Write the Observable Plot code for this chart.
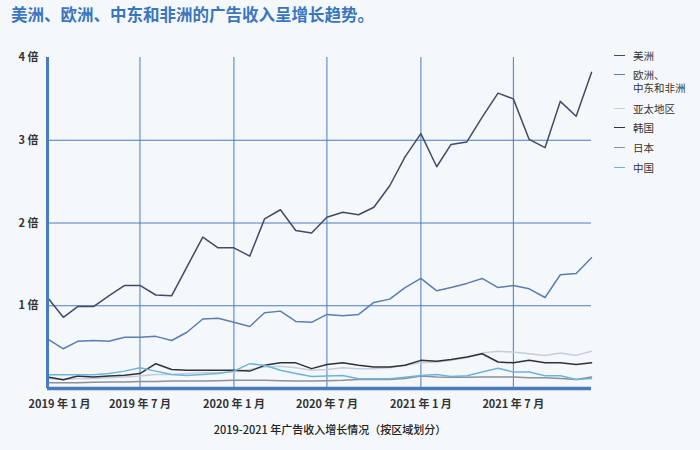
<!DOCTYPE html>
<html><head><meta charset="utf-8">
<script src="https://cdn.jsdelivr.net/npm/d3@7"></script>
<script src="https://cdn.jsdelivr.net/npm/@observablehq/plot@0.6"></script>
<style>
html,body{margin:0;padding:0;background:#f5f8fb;}
#wrap{position:relative;width:700px;height:450px;font-family:"Noto Sans CJK SC","Noto Sans",sans-serif;}
#title{position:absolute;left:11px;top:2px;font-size:16.5px;font-weight:700;color:#3a76bd;white-space:nowrap;}
#caption{position:absolute;left:0;width:660px;text-align:center;top:421px;font-size:11px;font-weight:500;color:#222;}
#legend{position:absolute;left:612px;top:49px;font-size:10.5px;color:#333;}
.li{position:absolute;left:0;white-space:nowrap;line-height:13px;}
.sw{position:absolute;left:2px;top:6px;width:11px;height:0;border-top:1.5px solid;}
.lt{position:absolute;left:21px;top:0;}
#chart{position:absolute;left:0;top:0;}
</style></head>
<body><div id="wrap"><div id="chart"></div><div id="title"></div><div id="legend"></div><div id="caption"></div></div>
<script>
const months = ["2019-01","2019-02","2019-03","2019-04","2019-05","2019-06","2019-07","2019-08","2019-09","2019-10","2019-11","2019-12",
"2020-01","2020-02","2020-03","2020-04","2020-05","2020-06","2020-07","2020-08","2020-09","2020-10","2020-11","2020-12",
"2021-01","2021-02","2021-03","2021-04","2021-05","2021-06","2021-07","2021-08","2021-09","2021-10","2021-11","2021-12"];
const seriesNames = ["美洲","欧洲、\n中东和非洲","亚太地区","韩国","日本","中国"];
const seriesColors = ["#434a66","#5a7db3","#c3cde0","#2f3136","#8b9099","#6cb4dd"];
const americas = [1.10,0.86,0.99,0.99,1.12,1.245,1.245,1.13,1.12,1.47,1.83,1.70,1.70,1.60,2.05,2.16,1.91,1.88,2.07,2.13,2.10,2.19,2.45,2.80,3.08,2.68,2.95,2.98,3.28,3.57,3.50,3.01,2.91,3.47,3.29,3.82];
const emea = [0.60,0.48,0.57,0.58,0.57,0.62,0.62,0.63,0.58,0.68,0.84,0.85,0.80,0.75,0.915,0.935,0.81,0.80,0.895,0.88,0.895,1.04,1.08,1.22,1.33,1.18,1.22,1.27,1.33,1.22,1.245,1.205,1.10,1.375,1.39,1.58];
const apac = [0.12,0.11,0.12,0.12,0.13,0.14,0.15,0.17,0.17,0.18,0.19,0.19,0.20,0.23,0.26,0.27,0.25,0.22,0.23,0.25,0.24,0.24,0.25,0.28,0.31,0.32,0.34,0.37,0.43,0.45,0.44,0.42,0.40,0.43,0.40,0.45];
const korea = [0.14,0.105,0.15,0.14,0.15,0.16,0.18,0.30,0.23,0.22,0.22,0.22,0.22,0.21,0.28,0.31,0.31,0.24,0.29,0.31,0.28,0.26,0.26,0.28,0.34,0.33,0.35,0.38,0.42,0.32,0.31,0.34,0.31,0.31,0.29,0.31];
const japan = [0.07,0.07,0.07,0.075,0.08,0.08,0.085,0.085,0.09,0.09,0.09,0.095,0.10,0.10,0.10,0.095,0.09,0.09,0.095,0.10,0.11,0.11,0.11,0.12,0.15,0.14,0.137,0.137,0.14,0.14,0.14,0.13,0.13,0.12,0.11,0.14];
const china = [0.165,0.165,0.165,0.165,0.18,0.21,0.25,0.21,0.17,0.157,0.17,0.18,0.21,0.30,0.28,0.22,0.18,0.145,0.15,0.157,0.117,0.117,0.117,0.137,0.157,0.17,0.145,0.155,0.20,0.245,0.20,0.20,0.155,0.155,0.11,0.12];
const yTicks = [1,2,3,4];
const xTicks = ["2019-01","2019-07","2020-01","2020-07","2021-01","2021-07"];
const titleText = "美洲、欧洲、中东和非洲的广告收入呈增长趋势。";
const captionText = "2019-2021 年广告收入增长情况（按区域划分）";

const seriesValues = [americas, emea, apac, korea, japan, china];
const parse = d3.utcParse("%Y-%m");
const data = [];
seriesValues.forEach((vals, s) => vals.forEach((v, i) => data.push({series: seriesNames[s], date: parse(months[i]), value: v})));
const xTickDates = xTicks.map(parse);
const fmt = d => `${d.getUTCFullYear()} 年 ${d.getUTCMonth()+1} 月`;
const gridColor = "#4a7bbd";

const chart = Plot.plot({
  width: 700, height: 450,
  marginTop: 57, marginBottom: 62, marginLeft: 47, marginRight: 109,
  style: {background: "transparent", fontFamily: "'Noto Sans CJK SC', sans-serif"},
  x: {type: "utc", domain: [parse(months[0]), parse(months[months.length-1])], axis: null},
  y: {domain: [0, 4]},
  color: {domain: seriesNames, range: seriesColors},
  marks: [
    Plot.ruleX(xTickDates.slice(1), {stroke: gridColor, strokeWidth: 1}),
    Plot.ruleY([1,2,3], {stroke: gridColor, strokeWidth: 1}),
    Plot.line(data, {x: "date", y: "value", z: "series", stroke: "series", strokeWidth: 1.5}),
    Plot.ruleX([parse(months[0])], {stroke: gridColor, strokeWidth: 3}),
    Plot.ruleY([0], {stroke: gridColor, strokeWidth: 3.5}),
    Plot.axisY({ticks: yTicks, tickSize: 0, tickPadding: 9, tickFormat: d => `${d} 倍`, label: null, fontSize: 11, fontWeight: 600, fill: "#333"}),
    Plot.text(xTickDates.slice(1), {x: d => d, y: 0, text: fmt, dy: 16, fontSize: 11, fontWeight: 600, fill: "#333"}),
    Plot.text(xTickDates.slice(0,1), {x: d => d, y: 0, text: fmt, dy: 16, dx: 12, fontSize: 11, fontWeight: 600, fill: "#333"})
  ]
});
document.getElementById("chart").append(chart);
document.getElementById("title").textContent = titleText;
document.getElementById("caption").textContent = captionText;

const legendTops = [0, 19, 53, 72, 92, 112];
const legend = document.getElementById("legend");
seriesNames.forEach((n, i) => {
  const li = document.createElement("div");
  li.className = "li"; li.style.top = legendTops[i] + "px";
  const sw = document.createElement("div"); sw.className = "sw"; sw.style.borderColor = seriesColors[i];
  const lt = document.createElement("div"); lt.className = "lt"; lt.style.whiteSpace = "pre"; lt.textContent = n;
  li.append(sw, lt); legend.append(li);
});
</script></body></html>
